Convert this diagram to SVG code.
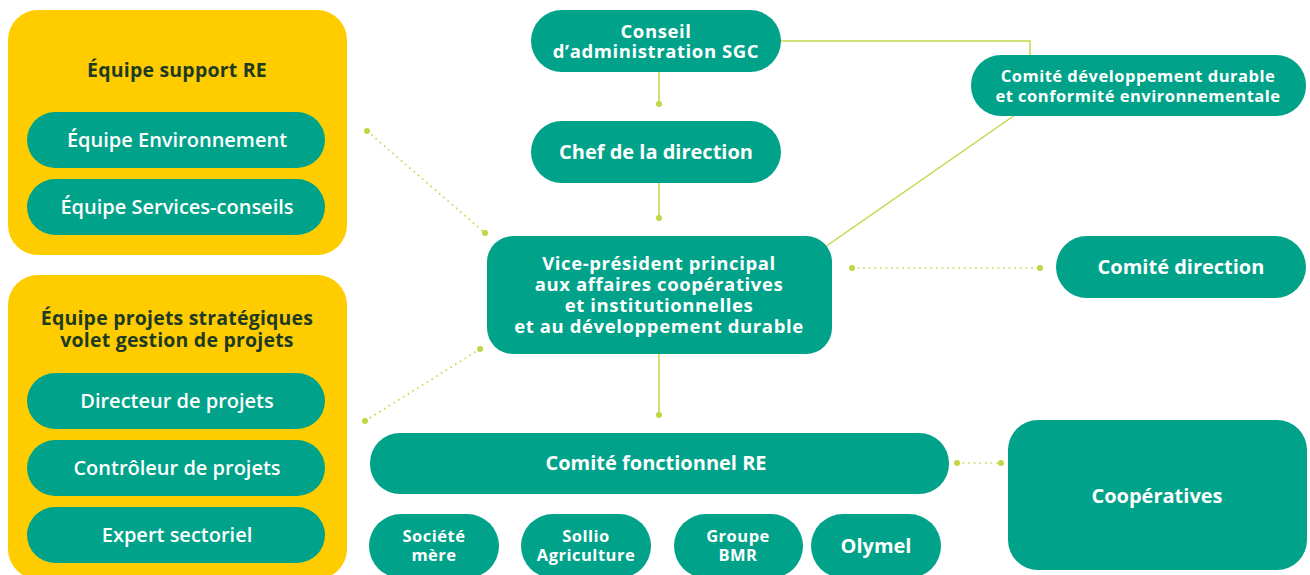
<svg xmlns="http://www.w3.org/2000/svg" width="1310" height="575" viewBox="0 0 1310 575">
<style>
.yel{fill:#FFCC00}
.tl{fill:#00A389}
.tt{font-family:"Open Sans","Liberation Sans",sans-serif;font-weight:bold;fill:#1E3B22;font-size:19.5px;letter-spacing:0.2px;text-anchor:middle}
.wr{font-family:"Open Sans","Liberation Sans",sans-serif;font-weight:600;fill:#fff;font-size:20px;text-anchor:middle}
.wb{font-family:"Open Sans","Liberation Sans",sans-serif;font-weight:bold;fill:#fff;font-size:20px;text-anchor:middle}
.w2{font-family:"Open Sans","Liberation Sans",sans-serif;font-weight:bold;fill:#fff;font-size:18.5px;letter-spacing:0.6px;text-anchor:middle}
.ws{font-family:"Open Sans","Liberation Sans",sans-serif;font-weight:bold;fill:#fff;font-size:16.5px;letter-spacing:0.5px;text-anchor:middle}
.ln{stroke:#C3D545;stroke-width:1.5;fill:none}
.dt{stroke:#C3D545;stroke-width:1.6;fill:none;stroke-dasharray:1.6 4}
.dot{fill:#C3D545}
</style>
<g id="equipe-support">
<rect class="yel" x="8" y="10" width="339" height="245" rx="30"/>
<text class="tt" x="177" y="77">Équipe support RE</text>
</g>
<g id="equipe-environnement">
<rect class="tl" x="27" y="112" width="298" height="56" rx="28"/>
<text class="wr" x="177" y="147">Équipe Environnement</text>
</g>
<g id="equipe-services">
<rect class="tl" x="27" y="179" width="298" height="56" rx="28"/>
<text class="wr" x="177" y="214">Équipe Services-conseils</text>
</g>
<g id="equipe-projets">
<rect class="yel" x="8" y="275" width="339" height="304" rx="30"/>
<text class="tt" x="177" y="325">Équipe projets stratégiques</text>
<text class="tt" x="177" y="347">volet gestion de projets</text>
</g>
<g id="directeur">
<rect class="tl" x="27" y="373" width="298" height="56" rx="28"/>
<text class="wr" x="177" y="408">Directeur de projets</text>
</g>
<g id="controleur">
<rect class="tl" x="27" y="440" width="298" height="56" rx="28"/>
<text class="wr" x="177" y="475">Contrôleur de projets</text>
</g>
<g id="expert">
<rect class="tl" x="27" y="507" width="298" height="56" rx="28"/>
<text class="wr" x="177" y="542">Expert sectoriel</text>
</g>
<g id="connectors">
<line class="ln" x1="659" y1="72" x2="659" y2="104"/>
<circle class="dot" cx="659" cy="104" r="3"/>
<line class="ln" x1="659" y1="183" x2="659" y2="218"/>
<circle class="dot" cx="659" cy="218" r="3"/>
<line class="ln" x1="659" y1="354" x2="659" y2="415"/>
<circle class="dot" cx="659" cy="415" r="3"/>
<polyline class="ln" points="781,41 1030,41 1030,56"/>
<line class="ln" x1="1015" y1="115" x2="825" y2="247"/>
<line class="dt" x1="367" y1="131" x2="485" y2="233"/>
<circle class="dot" cx="367" cy="131" r="3"/>
<circle class="dot" cx="485" cy="233" r="3"/>
<line class="dt" x1="365" y1="421" x2="480" y2="349"/>
<circle class="dot" cx="365" cy="421" r="3"/>
<circle class="dot" cx="480" cy="349" r="3"/>
<line class="dt" x1="852" y1="268" x2="1040" y2="268"/>
<circle class="dot" cx="852" cy="268" r="3"/>
<circle class="dot" cx="1040" cy="268" r="3"/>
<line class="dt" x1="957" y1="463" x2="1001" y2="463"/>
<circle class="dot" cx="957" cy="463" r="3"/>
<circle class="dot" cx="1001" cy="463" r="3"/>
</g>
<g id="conseil">
<rect class="tl" x="531" y="10" width="250" height="62" rx="31"/>
<text class="w2" x="656" y="38">Conseil</text>
<text class="w2" x="656" y="58">d’administration SGC</text>
</g>
<g id="chef">
<rect class="tl" x="531" y="121" width="250" height="62" rx="31"/>
<text class="wb" x="656" y="159">Chef de la direction</text>
</g>
<g id="vp">
<rect class="tl" x="487" y="236" width="345" height="118" rx="26"/>
<text class="w2" x="659" y="270">Vice-président principal</text>
<text class="w2" x="659" y="291">aux affaires coopératives</text>
<text class="w2" x="659" y="312">et institutionnelles</text>
<text class="w2" x="659" y="333">et au développement durable</text>
</g>
<g id="comite-dd">
<rect class="tl" x="971" y="55" width="335" height="61" rx="30"/>
<text class="ws" x="1138" y="82">Comité développement durable</text>
<text class="ws" x="1138" y="102">et conformité environnementale</text>
</g>
<g id="comite-direction">
<rect class="tl" x="1056" y="236" width="250" height="62" rx="31"/>
<text class="wb" x="1181" y="274">Comité direction</text>
</g>
<g id="comite-fonctionnel">
<rect class="tl" x="370" y="433" width="579" height="61" rx="30"/>
<text class="wb" x="656" y="470">Comité fonctionnel RE</text>
</g>
<g id="cooperatives">
<rect class="tl" x="1008" y="420" width="299" height="150" rx="30"/>
<text class="wb" x="1157" y="503">Coopératives</text>
</g>
<g id="societe-mere">
<rect class="tl" x="369" y="514" width="130" height="64" rx="32"/>
<text class="ws" x="434" y="542">Société</text>
<text class="ws" x="434" y="561">mère</text>
</g>
<g id="sollio">
<rect class="tl" x="521" y="514" width="130" height="64" rx="32"/>
<text class="ws" x="586" y="542">Sollio</text>
<text class="ws" x="586" y="561">Agriculture</text>
</g>
<g id="bmr">
<rect class="tl" x="674" y="514" width="129" height="64" rx="32"/>
<text class="ws" x="738" y="542">Groupe</text>
<text class="ws" x="738" y="561">BMR</text>
</g>
<g id="olymel">
<rect class="tl" x="811" y="514" width="130" height="64" rx="32"/>
<text class="wb" x="876" y="553">Olymel</text>
</g>
</svg>
